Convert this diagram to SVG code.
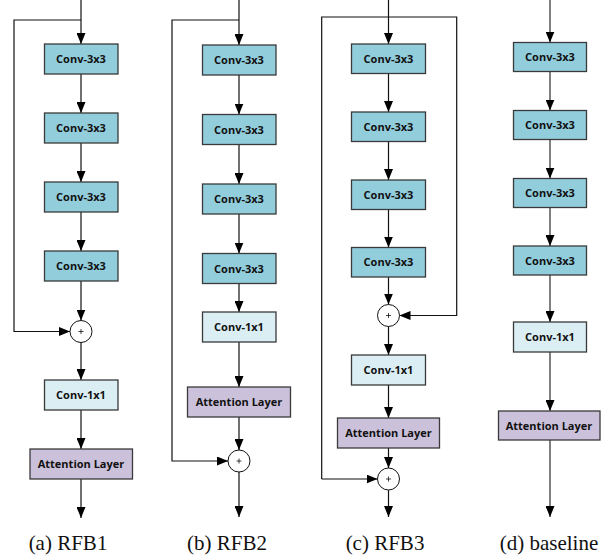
<svg xmlns="http://www.w3.org/2000/svg" width="607" height="558" viewBox="0 0 607 558">
<style>
.c3{fill:#92cddc;stroke:#3a3a3a;stroke-width:1.3}
.c1{fill:#daeef3;stroke:#3a3a3a;stroke-width:1.3}
.at{fill:#ccc1da;stroke:#3a3a3a;stroke-width:1.3}
.lbl{font-family:"Open Sans","Liberation Sans",sans-serif;font-weight:bold;font-size:11px;fill:#111;text-anchor:middle}
.sum{fill:#fff;stroke:#111;stroke-width:1}
.pl{stroke:#111;stroke-width:0.8;fill:none}
.ln{fill:none;stroke:#111;stroke-width:1.2}
.lg{fill:none;stroke:#555;stroke-width:1.5}
.cap{font-family:"Liberation Serif","Times New Roman",serif;font-size:21px;fill:#111;text-anchor:middle}
</style>
<defs>
<marker id="ah" markerUnits="userSpaceOnUse" markerWidth="11" markerHeight="9" refX="11" refY="4.5" orient="auto">
<path d="M0,0 L11,4.5 L0,9 z" fill="#000"/>
</marker>
</defs>
<g id="connectors">
<!-- (a) -->
<path class="ln" d="M81,0 V44" marker-end="url(#ah)"/>
<path class="ln" d="M81,74 V113" marker-end="url(#ah)"/>
<path class="ln" d="M81,143 V182" marker-end="url(#ah)"/>
<path class="ln" d="M81,212 V251" marker-end="url(#ah)"/>
<path class="ln" d="M81,281 V320.5" marker-end="url(#ah)"/>
<path class="ln" d="M81,342.5 V380" marker-end="url(#ah)"/>
<path class="ln" d="M81,410 V449" marker-end="url(#ah)"/>
<path class="ln" d="M81,479 V518" marker-end="url(#ah)"/>
<path class="ln" d="M81,20 H14 V331.5 H70" marker-end="url(#ah)"/>
<!-- (b) -->
<path class="ln" d="M239,0 V45" marker-end="url(#ah)"/>
<path class="ln" d="M239,75 V114.5" marker-end="url(#ah)"/>
<path class="ln" d="M239,144.5 V184" marker-end="url(#ah)"/>
<path class="ln" d="M239,214 V253.5" marker-end="url(#ah)"/>
<path class="ln" d="M239,283.5 V312" marker-end="url(#ah)"/>
<path class="ln" d="M239,342 V387" marker-end="url(#ah)"/>
<path class="ln" d="M239,417 V450" marker-end="url(#ah)"/>
<path class="ln" d="M239,472 V517" marker-end="url(#ah)"/>
<path class="ln" d="M239,20 H172 V461 H228" marker-end="url(#ah)"/>
<!-- (c) -->
<path class="ln" d="M388.5,0 V44" marker-end="url(#ah)"/>
<path class="ln" d="M388.5,73.5 V112" marker-end="url(#ah)"/>
<path class="ln" d="M388.5,141.5 V180" marker-end="url(#ah)"/>
<path class="ln" d="M388.5,209.5 V247.5" marker-end="url(#ah)"/>
<path class="ln" d="M388.5,277 V304.5" marker-end="url(#ah)"/>
<path class="ln" d="M388.5,326.5 V355" marker-end="url(#ah)"/>
<path class="ln" d="M388.5,385 V418" marker-end="url(#ah)"/>
<path class="ln" d="M388.5,448 V468" marker-end="url(#ah)"/>
<path class="ln" d="M388.5,490 V517" marker-end="url(#ah)"/>
<path class="ln" d="M321.7,479 V17 H456.7 V315.5 H399.5" marker-end="url(#ah)"/>
<path class="ln" d="M321.7,479 H377.5" marker-end="url(#ah)"/>
<!-- (d) -->
<path class="lg" d="M550,0 V42.5" marker-end="url(#ah)"/>
<path class="lg" d="M550,71.5 V110.5" marker-end="url(#ah)"/>
<path class="lg" d="M550,139.5 V178.5" marker-end="url(#ah)"/>
<path class="lg" d="M550,207.5 V246" marker-end="url(#ah)"/>
<path class="lg" d="M550,275 V322" marker-end="url(#ah)"/>
<path class="lg" d="M550,352 V411" marker-end="url(#ah)"/>
<path class="lg" d="M550,440 V517" marker-end="url(#ah)"/>
</g>
<!-- (a) nodes -->
<g id="a_conv1"><rect class="c3" x="44.5" y="44" width="73.5" height="30"/><text class="lbl" x="81" y="63">Conv-3x3</text></g>
<g id="a_conv2"><rect class="c3" x="44.5" y="113" width="73.5" height="30"/><text class="lbl" x="81" y="132">Conv-3x3</text></g>
<g id="a_conv3"><rect class="c3" x="44.5" y="182" width="73.5" height="30"/><text class="lbl" x="81" y="201">Conv-3x3</text></g>
<g id="a_conv4"><rect class="c3" x="44.5" y="251" width="73.5" height="30"/><text class="lbl" x="81" y="270">Conv-3x3</text></g>
<g id="a_sum"><circle class="sum" cx="81" cy="331.5" r="11"/><path class="pl" d="M78.5,331.5 H83.5 M81,329 V334"/></g>
<g id="a_conv1x1"><rect class="c1" x="44.5" y="380" width="73.5" height="30"/><text class="lbl" x="81" y="399">Conv-1x1</text></g>
<g id="a_att"><rect class="at" x="30" y="449" width="102.5" height="30"/><text class="lbl" x="81" y="468">Attention Layer</text></g>
<!-- (b) nodes -->
<g id="b_conv1"><rect class="c3" x="202.5" y="45" width="73.5" height="30"/><text class="lbl" x="239" y="64">Conv-3x3</text></g>
<g id="b_conv2"><rect class="c3" x="202.5" y="114.5" width="73.5" height="30"/><text class="lbl" x="239" y="133.5">Conv-3x3</text></g>
<g id="b_conv3"><rect class="c3" x="202.5" y="184" width="73.5" height="30"/><text class="lbl" x="239" y="203">Conv-3x3</text></g>
<g id="b_conv4"><rect class="c3" x="202.5" y="253.5" width="73.5" height="30"/><text class="lbl" x="239" y="272.5">Conv-3x3</text></g>
<g id="b_conv1x1"><rect class="c1" x="202.5" y="312" width="73.5" height="30"/><text class="lbl" x="239" y="331">Conv-1x1</text></g>
<g id="b_att"><rect class="at" x="187.5" y="387" width="103" height="30"/><text class="lbl" x="239" y="406">Attention Layer</text></g>
<g id="b_sum"><circle class="sum" cx="239" cy="461" r="11"/><path class="pl" d="M236.5,461 H241.5 M239,458.5 V463.5"/></g>
<!-- (c) nodes -->
<g id="c_conv1"><rect class="c3" x="351.5" y="44" width="74" height="29.5"/><text class="lbl" x="388.5" y="62.8">Conv-3x3</text></g>
<g id="c_conv2"><rect class="c3" x="351.5" y="112" width="74" height="29.5"/><text class="lbl" x="388.5" y="130.8">Conv-3x3</text></g>
<g id="c_conv3"><rect class="c3" x="351.5" y="180" width="74" height="29.5"/><text class="lbl" x="388.5" y="198.8">Conv-3x3</text></g>
<g id="c_conv4"><rect class="c3" x="351.5" y="247.5" width="74" height="29.5"/><text class="lbl" x="388.5" y="266.3">Conv-3x3</text></g>
<g id="c_sum1"><circle class="sum" cx="388.5" cy="315.5" r="11"/><path class="pl" d="M386,315.5 H391 M388.5,313 V318"/></g>
<g id="c_conv1x1"><rect class="c1" x="351.5" y="355" width="74" height="30"/><text class="lbl" x="388.5" y="374">Conv-1x1</text></g>
<g id="c_att"><rect class="at" x="337.5" y="418" width="102" height="30"/><text class="lbl" x="388.5" y="437">Attention Layer</text></g>
<g id="c_sum2"><circle class="sum" cx="388.5" cy="479" r="11"/><path class="pl" d="M386,479 H391 M388.5,476.5 V481.5"/></g>
<!-- (d) nodes -->
<g id="d_conv1"><rect class="c3" x="513.5" y="42.5" width="73" height="29"/><text class="lbl" x="550" y="61">Conv-3x3</text></g>
<g id="d_conv2"><rect class="c3" x="513.5" y="110.5" width="73" height="29"/><text class="lbl" x="550" y="129">Conv-3x3</text></g>
<g id="d_conv3"><rect class="c3" x="513.5" y="178.5" width="73" height="29"/><text class="lbl" x="550" y="197">Conv-3x3</text></g>
<g id="d_conv4"><rect class="c3" x="513.5" y="246" width="73" height="29"/><text class="lbl" x="550" y="264.5">Conv-3x3</text></g>
<g id="d_conv1x1"><rect class="c1" x="513.5" y="322" width="73" height="30"/><text class="lbl" x="550" y="341">Conv-1x1</text></g>
<g id="d_att"><rect class="at" x="498.5" y="411" width="101.5" height="29"/><text class="lbl" x="549" y="429.5">Attention Layer</text></g>
<g id="captions">
<text class="cap" x="68" y="550">(a) RFB1</text>
<text class="cap" x="227" y="550">(b) RFB2</text>
<text class="cap" x="385" y="550">(c) RFB3</text>
<text class="cap" x="549" y="550">(d) baseline</text>
</g>
</svg>
